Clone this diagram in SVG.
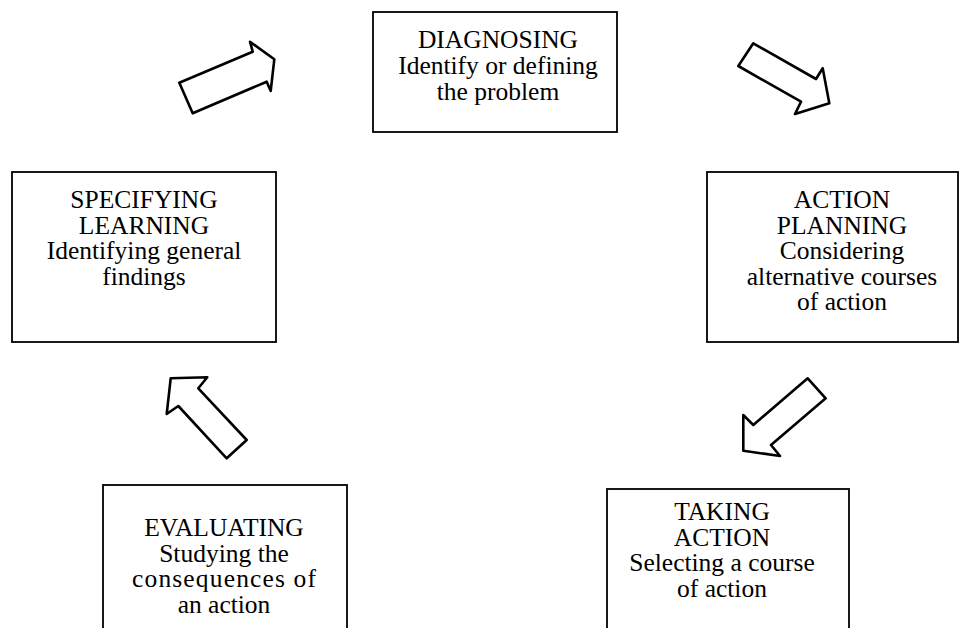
<svg xmlns="http://www.w3.org/2000/svg" width="961" height="628" viewBox="0 0 961 628">
  <style>
    .box { fill: #ffffff; stroke: #000000; stroke-width: 1.8; }
    .lbl { font-family: "Liberation Serif", "Times New Roman", serif; font-size: 25.5px; fill: #000000; text-anchor: middle; }
    .arrow { fill: #ffffff; stroke: #000000; stroke-width: 2.6; stroke-linejoin: round; }
  </style>
  <rect width="961" height="628" fill="#ffffff"/>

  <!-- Process stages -->
  <g id="diagnosing">
    <rect class="box" x="373" y="12" width="244" height="120"/>
    <text class="lbl" x="498" y="48">DIAGNOSING</text>
    <text class="lbl" x="498" y="74">Identify or defining</text>
    <text class="lbl" x="498" y="100">the problem</text>
  </g>

  <g id="action-planning">
    <rect class="box" x="707" y="172" width="251" height="170"/>
    <text class="lbl" x="842" y="208">ACTION</text>
    <text class="lbl" x="842" y="233.5">PLANNING</text>
    <text class="lbl" x="842" y="259">Considering</text>
    <text class="lbl" x="842" y="284.5">alternative courses</text>
    <text class="lbl" x="842" y="310">of action</text>
  </g>

  <g id="taking-action">
    <rect class="box" x="607" y="489" width="242" height="160"/>
    <text class="lbl" x="722" y="520">TAKING</text>
    <text class="lbl" x="722" y="545.5">ACTION</text>
    <text class="lbl" x="722" y="571">Selecting a course</text>
    <text class="lbl" x="722" y="596.5">of action</text>
  </g>

  <g id="evaluating">
    <rect class="box" x="103" y="485" width="244" height="160"/>
    <text class="lbl" x="224" y="536">EVALUATING</text>
    <text class="lbl" x="224" y="561.5">Studying the</text>
    <text class="lbl" x="224" y="587" textLength="184" lengthAdjust="spacing">consequences of</text>
    <text class="lbl" x="224" y="612.5">an action</text>
  </g>

  <g id="specifying-learning">
    <rect class="box" x="12" y="172" width="264" height="170"/>
    <text class="lbl" x="144" y="208">SPECIFYING</text>
    <text class="lbl" x="144" y="233.5">LEARNING</text>
    <text class="lbl" x="144" y="259">Identifying general</text>
    <text class="lbl" x="144" y="284.5">findings</text>
  </g>

  <!-- Block arrows linking the stages clockwise -->
  <g id="connectors">
    <polygon class="arrow" points="192.7,113.3 179.3,82.7 252.7,51.7 250,41.7 274.3,59.3 270.7,91 266.7,81.7"/>
    <polygon class="arrow" points="753.3,43.3 738.3,66 801,101.7 795,114 829.3,103.3 822.7,68.3 816,79"/>
    <polygon class="arrow" points="807.7,378.3 825.7,398.3 771,445 780,456 743.3,450.7 743.3,415 753.3,425"/>
    <polygon class="arrow" points="226.7,458.3 246.7,440 198.3,388.3 207.3,377.3 170.7,378.3 166.7,414 178.3,406"/>
  </g>
</svg>
